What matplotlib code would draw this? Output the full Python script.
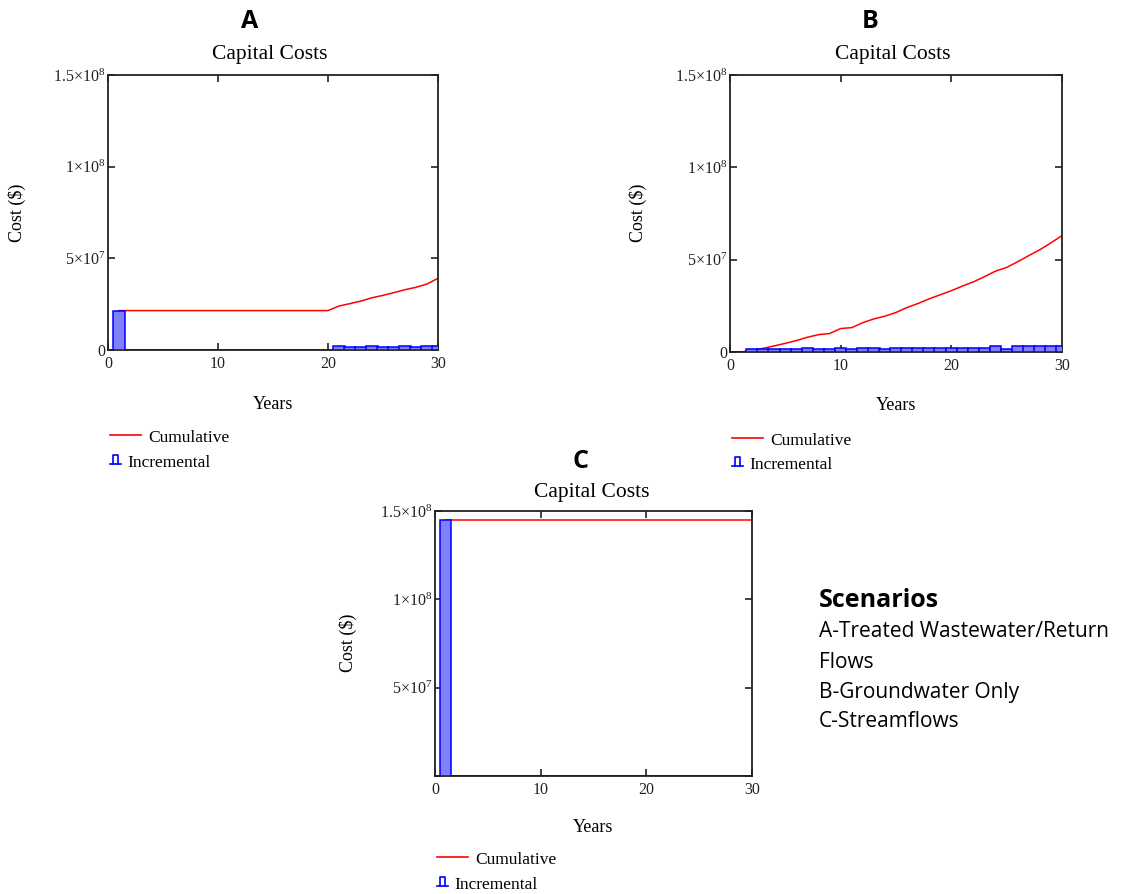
import matplotlib
matplotlib.use("Agg")
import matplotlib.pyplot as plt
from matplotlib.lines import Line2D

plt.rcParams["font.family"] = "Liberation Serif"
plt.rcParams["mathtext.fontset"] = "custom"
plt.rcParams["mathtext.rm"] = "Liberation Serif"

W, H = 1130, 894

# values in millions of dollars
YEARS_A = list(range(1, 31))
INCR_A = [21.5, 0, 0, 0, 0, 0, 0, 0, 0, 0,
          0, 0, 0, 0, 0, 0, 0, 0, 0, 0,
          2.2, 1.5, 1.5, 2.2, 1.5, 1.5, 2.2, 1.5, 2.2, 2.2]
CUM_A = [21.5, 21.5, 21.5, 21.5, 21.5, 21.5, 21.5, 21.5, 21.5, 21.5,
         21.5, 21.5, 21.5, 21.5, 21.5, 21.5, 21.5, 21.5, 21.5, 21.5,
         24.0, 25.3, 26.7, 28.5, 29.8, 31.3, 32.9, 34.2, 36.0, 39.1]

YEARS_B = list(range(0, 31))
INCR_B = [0, 0, 1.4, 1.4, 1.4, 1.4, 1.4, 2.2, 1.4, 1.4, 2.2,
          1.4, 2.2, 2.2, 1.4, 2.0, 2.0, 2.0, 2.0, 2.0, 2.0,
          2.0, 2.0, 2.0, 3.4, 1.6, 3.4, 3.4, 3.4, 3.4, 3.4]
CUM_B = [0, 0, 0.9, 2.0, 3.3, 4.7, 6.2, 8.0, 9.4, 10.0, 12.7,
         13.2, 15.9, 17.9, 19.4, 21.4, 24.1, 26.3, 28.8, 31.0, 33.2,
         35.7, 38.0, 40.8, 43.8, 45.8, 48.9, 52.2, 55.4, 59.1, 63.0]

YEARS_C = list(range(1, 31))
INCR_C = [145, 0, 0, 0, 0, 0, 0, 0, 0, 0,
          0, 0, 0, 0, 0, 0, 0, 0, 0, 0,
          0, 0, 0, 0, 0, 0, 0, 0, 0, 0]
CUM_C = [145, 145, 145, 145, 145, 145, 145, 145, 145, 145,
         145, 145, 145, 145, 145, 145, 145, 145, 145, 145,
         145, 145, 145, 145, 145, 145, 145, 145, 145, 145]

X_TICKS = [0, 10, 20, 30]
Y_TICKS = [0, 5e7, 1e8, 1.5e8]
Y_LABELS = ["0", r"$\mathregular{5{\times}10^{7}}$",
            r"$\mathregular{1{\times}10^{8}}$", r"$\mathregular{1.5{\times}10^{8}}$"]

SCENARIOS = ["A-Treated Wastewater/Return", "Flows", "B-Groundwater Only", "C-Streamflows"]


def fx(x):
    return x / W


def fy(y):
    return 1 - y / H


fig = plt.figure(figsize=(W / 100, H / 100), dpi=100)
fig.patch.set_facecolor("white")


def panel(letter, years, incr, cum, box, show_zero, lay):
    left, top, right, bottom = box
    ax = fig.add_axes([fx(left), fy(bottom), fx(right - left), (bottom - top) / H])
    ax.plot(years, [v * 1e6 for v in cum], color="#ff0000", lw=1.1, zorder=2)
    ax.bar(years, [v * 1e6 for v in incr], width=1.05, color="#8080ff",
           edgecolor="#0000ff", linewidth=1.1, zorder=3)
    ax.set_xlim(0, 30)
    ax.set_ylim(0, 1.5e8)
    ax.set_xticks(X_TICKS)
    ax.set_xticklabels([str(t) for t in X_TICKS])
    ax.set_yticks(Y_TICKS)
    labels = list(Y_LABELS)
    if not show_zero:
        labels[0] = ""
    ax.set_yticklabels(labels)
    ax.tick_params(direction="in", top=True, right=True, length=5, width=1.2,
                   labelsize=11.5, colors="#222222")
    ax.tick_params(axis="x", pad=4)
    ax.tick_params(axis="y", pad=2)
    for s in ax.spines.values():
        s.set_color("#222222")
        s.set_linewidth(1.3)

    cx = (left + right) / 2
    fig.text(fx(lay["letter"][0]), fy(lay["letter"][1]), letter, family="Open Sans",
             fontweight="bold", fontsize=18, ha="center", va="baseline")
    fig.text(fx(lay["title"][0]), fy(lay["title"][1]), "Capital Costs",
             fontsize=15.5, ha="center", va="baseline")
    fig.text(fx(cx), fy(lay["xlab"]), "Years", fontsize=13, ha="center", va="baseline")
    fig.text(fx(lay["ylab"][0]), fy(lay["ylab"][1]), "Cost ($)", fontsize=13,
             rotation=90, ha="center", va="center")

    # legend drawn by hand (text columns differ per row)
    lx, ly, iy = lay["leg"]
    fig.add_artist(Line2D([fx(lx + 2), fx(lx + 33)], [fy(ly), fy(ly)],
                          color="#ff0000", lw=1.2, transform=fig.transFigure))
    fig.text(fx(lx + 40), fy(ly + 7), "Cumulative", fontsize=12.5, va="baseline")
    x0, x1 = lx + 2, lx + 13
    yb, yt = iy + 9, iy
    fig.add_artist(Line2D([fx(x0), fx(x1)], [fy(yb), fy(yb)], color="#0000ff", lw=1.2,
                          transform=fig.transFigure))
    fig.add_artist(Line2D([fx(x0 + 3), fx(x0 + 3), fx(x1 - 3), fx(x1 - 3)],
                          [fy(yb), fy(yt), fy(yt), fy(yb)], color="#0000ff", lw=1.2,
                          transform=fig.transFigure))
    fig.text(fx(lx + 19), fy(iy + 12), "Incremental", fontsize=12.5, va="baseline")
    return ax


panel("A", YEARS_A, INCR_A, CUM_A, (108, 75, 438, 350), True,
      {"letter": (250, 28), "title": (270, 59), "xlab": 409, "ylab": (17, 213),
       "leg": (108, 435, 455)})
panel("B", YEARS_B, INCR_B, CUM_B, (730, 75, 1062, 352), True,
      {"letter": (870, 28), "title": (893, 59), "xlab": 410, "ylab": (638, 213),
       "leg": (730, 438, 457)})
panel("C", YEARS_C, INCR_C, CUM_C, (435, 511, 752, 776), False,
      {"letter": (581, 468), "title": (592, 497), "xlab": 832, "ylab": (348, 643),
       "leg": (435, 857, 877)})

fig.text(fx(819), fy(607), "Scenarios", family="Open Sans", fontweight="bold",
         fontsize=18, va="baseline")
for txt, yb in zip(SCENARIOS, [637, 668, 698, 727]):
    fig.text(fx(819), fy(yb), txt, family="Open Sans", fontsize=15, va="baseline")

fig.savefig("out.png", dpi=100, facecolor="white")
